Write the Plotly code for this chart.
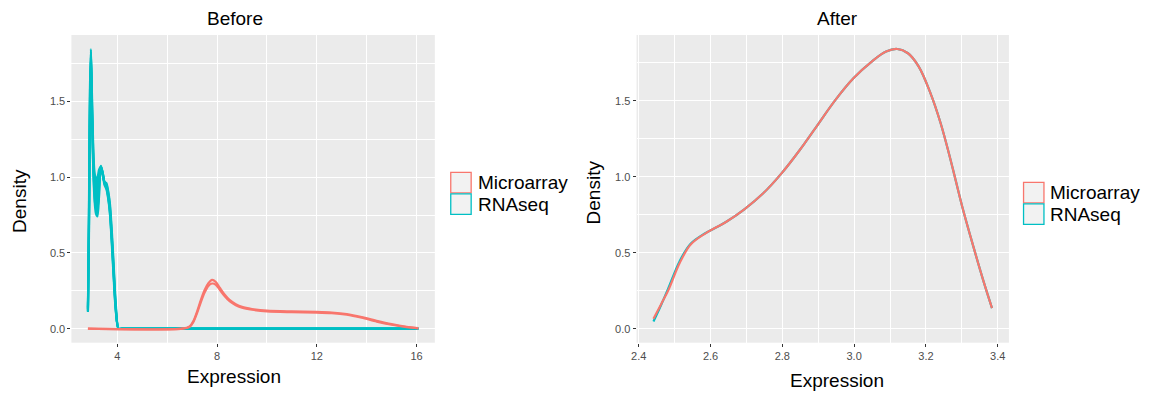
import plotly.graph_objects as go

W, H = 1149, 394
FONT = "Liberation Sans, Arial, Helvetica, sans-serif"

# ---- data -------------------------------------------------------------
series_names = ["Microarray", "RNAseq"]
series_colors = ["#F8766D", "#00BFC4"]

# "Before": density curves of the individual samples
before_micro_x = [2.82, 6.6, 6.9, 7.05, 7.2, 7.35, 7.5, 7.65, 7.8, 7.95, 8.1, 8.3,
                  8.5, 8.75, 9.0, 9.4, 10.0, 11.0, 12.0, 12.6, 13.2, 13.8, 14.4,
                  15.0, 15.6, 16.07]
before_micro_s1 = [0.0, 0.0, 0.015, 0.05, 0.115, 0.19, 0.255, 0.30, 0.322, 0.308,
                   0.272, 0.226, 0.19, 0.162, 0.144, 0.13, 0.119, 0.114, 0.111,
                   0.107, 0.097, 0.077, 0.052, 0.03, 0.013, 0.004]
before_micro_s2 = [0.0, 0.0, 0.012, 0.044, 0.104, 0.175, 0.238, 0.282, 0.298, 0.29,
                   0.258, 0.215, 0.181, 0.155, 0.138, 0.125, 0.114, 0.109, 0.106,
                   0.102, 0.092, 0.072, 0.047, 0.026, 0.01, 0.002]

before_rna_x = [2.82, 2.86, 2.90, 2.94, 2.98, 3.03, 3.08, 3.14, 3.20, 3.27, 3.34,
                3.41, 3.48, 3.56, 3.63, 3.70, 3.78, 3.86, 3.94, 4.05, 4.2, 6.0,
                16.07]
before_rna_s1 = [0.14, 0.78, 1.58, 1.845, 1.56, 1.22, 1.04, 0.99, 1.0, 1.05, 1.07,
                 1.02, 0.97, 0.96, 0.91, 0.83, 0.64, 0.40, 0.16, 0.0, 0.0, 0.0, 0.0]
before_rna_s2 = [0.13, 0.72, 1.52, 1.83, 1.52, 1.17, 0.98, 0.93, 0.95, 1.02, 1.075,
                 1.03, 0.97, 0.95, 0.90, 0.81, 0.61, 0.37, 0.14, 0.0, 0.0, 0.0, 0.0]
before_rna_s3 = [0.12, 0.68, 1.46, 1.81, 1.48, 1.13, 0.93, 0.86, 0.88, 0.98, 1.07,
                 1.03, 0.965, 0.94, 0.88, 0.79, 0.59, 0.35, 0.13, 0.0, 0.0, 0.0, 0.0]
before_rna_s4 = [0.115, 0.63, 1.40, 1.79, 1.45, 1.10, 0.89, 0.80, 0.80, 0.93, 1.06,
                 1.03, 0.96, 0.93, 0.87, 0.77, 0.57, 0.33, 0.12, 0.0, 0.0, 0.0, 0.0]
before_rna_s5 = [0.11, 0.58, 1.33, 1.76, 1.42, 1.07, 0.86, 0.76, 0.74, 0.88, 1.045,
                 1.02, 0.95, 0.92, 0.86, 0.76, 0.55, 0.31, 0.11, 0.0, 0.0, 0.0, 0.0]

# "After": density after normalisation
after_x = [2.441, 2.462, 2.483, 2.514, 2.544, 2.584, 2.615, 2.645, 2.695, 2.746,
           2.796, 2.847, 2.897, 2.948, 2.998, 3.049, 3.089, 3.120, 3.150, 3.180,
           3.211, 3.241, 3.271, 3.301, 3.332, 3.362, 3.384]
after_micro = [0.065, 0.16, 0.257, 0.432, 0.553, 0.625, 0.666, 0.706, 0.788, 0.890,
               1.018, 1.172, 1.338, 1.507, 1.649, 1.759, 1.825, 1.842, 1.814, 1.726,
               1.561, 1.353, 1.090, 0.805, 0.542, 0.300, 0.136]
after_rna = [0.048, 0.155, 0.27, 0.445, 0.558, 0.627, 0.666, 0.706, 0.788, 0.890,
             1.018, 1.172, 1.338, 1.507, 1.649, 1.759, 1.825, 1.842, 1.814, 1.726,
             1.561, 1.353, 1.090, 0.805, 0.542, 0.300, 0.136]

before_xticks = [4, 8, 12, 16]
after_xticks = [2.4, 2.6, 2.8, 3.0, 3.2, 3.4]
density_ticks = [0.0, 0.5, 1.0, 1.5]

panel_titles = ["Before", "After"]
x_title = "Expression"
y_title = "Density"

# ---- helpers ----------------------------------------------------------
def fx(px):
    return px / W


def fy(py):
    return 1 - py / H


def expanded(values):
    lo, hi = min(values), max(values)
    span = hi - lo
    return [lo - 0.05 * span, hi + 0.05 * span]


fig = go.Figure()

line_w = 2.2
before_rna = [before_rna_s1, before_rna_s2, before_rna_s3, before_rna_s4, before_rna_s5]
before_micro = [before_micro_s1, before_micro_s2]


def spline(color, width=line_w, smoothing=0.8):
    return dict(color=color, width=width, shape="spline", smoothing=smoothing)


# overlapping RNAseq sample curves form a solid band between the outer two
fig.add_trace(go.Scatter(x=before_rna_x, y=before_rna[0], mode="lines",
                         line=spline(series_colors[1]), xaxis="x", yaxis="y",
                         showlegend=False, hoverinfo="skip"))
fig.add_trace(go.Scatter(x=before_rna_x, y=before_rna[-1], mode="lines",
                         line=spline(series_colors[1]), fill="tonexty",
                         fillcolor=series_colors[1], xaxis="x", yaxis="y",
                         showlegend=False, hoverinfo="skip"))
for ys in before_rna[1:-1]:
    fig.add_trace(go.Scatter(x=before_rna_x, y=ys, mode="lines",
                             line=spline(series_colors[1]),
                             xaxis="x", yaxis="y", showlegend=False,
                             hoverinfo="skip"))
# Microarray on top
for ys in before_micro:
    fig.add_trace(go.Scatter(x=before_micro_x, y=ys, mode="lines",
                             line=spline(series_colors[0]),
                             xaxis="x", yaxis="y", showlegend=False,
                             hoverinfo="skip"))

fig.add_trace(go.Scatter(x=after_x, y=after_rna, mode="lines",
                         line=spline(series_colors[1], smoothing=1.0),
                         xaxis="x2", yaxis="y2", showlegend=False,
                         hoverinfo="skip"))
fig.add_trace(go.Scatter(x=after_x, y=after_micro, mode="lines",
                         line=spline(series_colors[0], smoothing=1.0),
                         xaxis="x2", yaxis="y2", showlegend=False,
                         hoverinfo="skip"))

before_all_x = before_micro_x + before_rna_x
before_all_y = sum(before_micro, []) + sum(before_rna, []) + [0]
after_all_y = after_micro + after_rna + [0]

tick_font = dict(family=FONT, size=11, color="#4D4D4D")
common_axis = dict(showline=False, zeroline=False, ticks="outside", ticklen=3,
                   tickwidth=1, tickcolor="#333333", tickfont=tick_font,
                   showgrid=True, gridcolor="white", gridwidth=1.3,
                   fixedrange=True)

panel_top, panel_bottom = 35, 342.7
left_panel = (66.7, 431.7)
right_panel = (634.3, 1008.3)

fig.update_layout(
    width=W, height=H, autosize=False,
    margin=dict(l=0, r=0, t=0, b=0),
    paper_bgcolor="white", plot_bgcolor="#EBEBEB",
    showlegend=False,
    xaxis=dict(common_axis, domain=[fx(left_panel[0]), fx(left_panel[1])],
               range=expanded(before_all_x), tickvals=before_xticks,
               ticktext=[str(v) for v in before_xticks], anchor="y",
               minor=dict(dtick=2, tick0=0, showgrid=True, gridcolor="white",
                          gridwidth=0.7)),
    yaxis=dict(common_axis, domain=[fy(panel_bottom), fy(panel_top)],
               range=expanded(before_all_y), tickvals=density_ticks,
               ticktext=[f"{v:.1f}" for v in density_ticks], anchor="x",
               minor=dict(dtick=0.25, tick0=0, showgrid=True, gridcolor="white",
                          gridwidth=0.7)),
    xaxis2=dict(common_axis, domain=[fx(right_panel[0]), fx(right_panel[1])],
                range=expanded(after_x), tickvals=after_xticks,
                ticktext=[f"{v:.1f}" for v in after_xticks], anchor="y2",
                minor=dict(dtick=0.1, tick0=2.4, showgrid=True, gridcolor="white",
                           gridwidth=0.7)),
    yaxis2=dict(common_axis, domain=[fy(panel_bottom), fy(panel_top)],
                range=expanded(after_all_y), tickvals=density_ticks,
                ticktext=[f"{v:.1f}" for v in density_ticks], anchor="x2",
                minor=dict(dtick=0.25, tick0=0, showgrid=True, gridcolor="white",
                           gridwidth=0.7)),
)

big_font = dict(family=FONT, size=19, color="black")
annotations = []
shapes = []

# titles and axis titles for each panel
label_pos = [
    dict(title=(231, 18.5), xlab=(230, 376.5), ylab=(14, 201)),
    dict(title=(836, 18.5), xlab=(836, 380.5), ylab=(591, 192)),
]
for name, pos in zip(panel_titles, label_pos):
    annotations.append(dict(text=name, x=fx(pos["title"][0]), y=fy(pos["title"][1]),
                            xref="paper", yref="paper", xanchor="center",
                            yanchor="middle", showarrow=False, font=big_font))
    annotations.append(dict(text=x_title, x=fx(pos["xlab"][0]), y=fy(pos["xlab"][1]),
                            xref="paper", yref="paper", xanchor="center",
                            yanchor="middle", showarrow=False, font=big_font))
    annotations.append(dict(text=y_title, x=fx(pos["ylab"][0]), y=fy(pos["ylab"][1]),
                            xref="paper", yref="paper", xanchor="center",
                            yanchor="middle", showarrow=False, font=big_font,
                            textangle=-90))

# one legend per panel: grey key boxes outlined in the series colour
legend_origins = [(447.7, 172.3), (1023.0, 182.3)]
key_size, key_pitch = 20.5, 21.5
for ox, oy in legend_origins:
    for i, (name, color) in enumerate(zip(series_names, series_colors)):
        y0 = oy + i * key_pitch
        shapes.append(dict(type="rect", xref="paper", yref="paper",
                           x0=fx(ox), x1=fx(ox + key_size),
                           y0=fy(y0 + key_size), y1=fy(y0),
                           fillcolor="#F2F2F2",
                           line=dict(color=color, width=1.3)))
        annotations.append(dict(text=name, x=fx(ox + key_size + 4.5),
                                y=fy(y0 + key_size / 2), xref="paper",
                                yref="paper", xanchor="left", yanchor="middle",
                                showarrow=False, font=big_font))

fig.update_layout(annotations=annotations, shapes=shapes)

fig.write_html("out.html")
